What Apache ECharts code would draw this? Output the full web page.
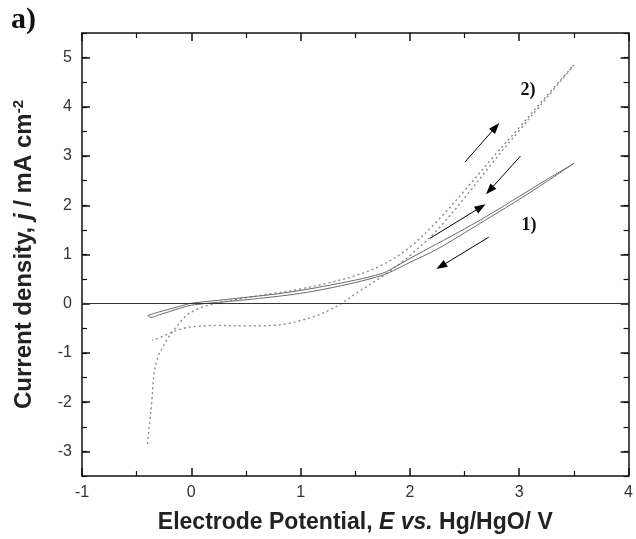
<!DOCTYPE html>
<html>
<head>
<meta charset="utf-8">
<script src="https://cdn.jsdelivr.net/npm/echarts@6.0.0/dist/echarts.min.js"></script>
<style>
html,body{margin:0;padding:0;background:#fff;}
#chart{width:636px;height:539px;}
</style>
</head>
<body>
<div id="chart"></div>
<script>
// Curve 1 (solid): forward and reverse scans
var c1FwdE = [-0.40,-0.30,-0.20,-0.10,0.00,0.25,0.50,0.75,1.00,1.25,1.50,1.75,1.875,2.00,2.25,2.50,2.75,3.00,3.25,3.50];
var c1FwdJ = [-0.24,-0.17,-0.11,-0.05,0.01,0.07,0.13,0.19,0.27,0.37,0.48,0.62,0.76,0.92,1.22,1.52,1.84,2.18,2.52,2.85];
var c1RevE = [3.50,3.25,3.00,2.75,2.50,2.25,2.00,1.875,1.75,1.50,1.25,1.00,0.75,0.50,0.25,0.00,-0.10,-0.20,-0.30,-0.37,-0.40];
var c1RevJ = [2.85,2.48,2.12,1.78,1.44,1.11,0.84,0.70,0.58,0.43,0.31,0.21,0.14,0.08,0.03,-0.03,-0.09,-0.16,-0.23,-0.28,-0.24];
// Curve 2 (dotted): forward and reverse scans
var c2FwdE = [-0.40,-0.39,-0.38,-0.36,-0.34,-0.30,-0.26,-0.22,-0.14,-0.04,0.10,0.28,0.50,0.75,1.00,1.25,1.50,1.75,2.00,2.25,2.50,2.75,3.00,3.25,3.50];
var c2FwdJ = [-2.85,-2.60,-2.40,-1.95,-1.41,-1.05,-0.88,-0.72,-0.48,-0.23,-0.07,0.03,0.12,0.21,0.30,0.42,0.57,0.79,1.15,1.68,2.30,2.95,3.58,4.22,4.85];
var c2RevE = [3.50,3.25,3.00,2.75,2.50,2.25,2.00,1.75,1.50,1.37,1.25,1.14,1.00,0.89,0.75,0.50,0.25,0.00,-0.10,-0.20,-0.30,-0.36];
var c2RevJ = [4.85,4.18,3.52,2.85,2.15,1.50,0.98,0.56,0.20,0.00,-0.14,-0.25,-0.34,-0.40,-0.44,-0.45,-0.44,-0.47,-0.52,-0.60,-0.70,-0.74];
// Axis ticks
var xTicks = [-1,0,1,2,3,4];
var yTicks = [-3,-2,-1,0,1,2,3,4,5];

function pairs(xs, ys){ return xs.map(function(x,i){ return [x, ys[i]]; }); }

var chart = echarts.init(document.getElementById('chart'), null, {renderer:'canvas'});

var SANS = 'Liberation Sans, Arial, sans-serif';
var SERIF = 'Liberation Serif, Times New Roman, serif';
var tickFont = {fontFamily:SANS, fontSize:16, color:'#333'};
var axisLineStyle = {color:'#111', width:1.5};
var majorTick = {show:true, inside:true, length:8, lineStyle:{color:'#111', width:1.5}};
var minorTickS = {show:true, inside:true, length:5, lineStyle:{color:'#111', width:1.2}};

var arrowStyle = {color:'#000', width:1, type:'solid'};
function arrow(x1,y1,x2,y2){
  return [{coord:[x1,y1], symbol:'none'}, {coord:[x2,y2], symbol:'triangle', symbolSize:[8,11]}];
}

function yMajor(pos, withLabels){
  var ax = {type:'value', position:pos, min:-3.5, max:5.5, interval:0.5,
    axisLine:{show:true, onZero:false, lineStyle:axisLineStyle},
    axisTick:Object.assign({customValues:yTicks}, majorTick),
    splitLine:{show:false},
    axisLabel:{show:false}};
  if (withLabels) {
    ax.axisLabel = Object.assign({show:true, margin:10, customValues:yTicks}, tickFont);
    ax.name = 'Current density, {i|j} / mA cm{s|-2}';
    ax.nameLocation = 'middle';
    ax.nameGap = 44;
    ax.nameRotate = 90;
    ax.nameTextStyle = {fontFamily:SANS, fontSize:24, fontWeight:'bold', color:'#222',
      rich:{i:{fontFamily:SANS, fontSize:24, fontWeight:'bold', fontStyle:'italic', color:'#222'},
            s:{fontFamily:SANS, fontSize:15, fontWeight:'bold', color:'#222', padding:[0,0,12,0]}}};
  }
  return ax;
}
function yMinor(pos){
  return {type:'value', position:pos, min:-3.5, max:5.5, interval:0.5,
    axisLine:{show:false, onZero:false}, axisTick:minorTickS,
    splitLine:{show:false}, axisLabel:{show:false}};
}

var option = {
  animation:false,
  backgroundColor:'#fff',
  grid:{left:82, top:33, width:551, height:443, containLabel:false},
  xAxis:[
    {type:'value', position:'bottom', min:-1, max:4, interval:1,
     axisLine:{show:true, onZero:false, lineStyle:axisLineStyle},
     axisTick:majorTick,
     minorTick:{show:true, splitNumber:2, length:5, lineStyle:{color:'#111', width:1.2}},
     splitLine:{show:false},
     axisLabel:Object.assign({margin:9, customValues:xTicks}, tickFont),
     name:'Electrode Potential, {i|E} {i|vs.} Hg/HgO/ V', nameLocation:'middle', nameGap:35,
     nameTextStyle:{fontFamily:SANS, fontSize:23, fontWeight:'bold', color:'#222',
       rich:{i:{fontFamily:SANS, fontSize:23, fontWeight:'bold', fontStyle:'italic', color:'#222'}}}
    },
    {type:'value', position:'top', min:-1, max:4, interval:1,
     axisLine:{show:true, onZero:false, lineStyle:axisLineStyle},
     axisTick:majorTick,
     minorTick:{show:true, splitNumber:2, length:5, lineStyle:{color:'#111', width:1.2}},
     splitLine:{show:false}, axisLabel:{show:false}}
  ],
  yAxis:[ yMajor('left', true), yMinor('left'), yMajor('right', false), yMinor('right') ],
  graphic:[
    {type:'text', left:11, top:5, style:{text:'a)', fontFamily:SERIF, fontSize:30, fontWeight:'bold', fill:'#111'}}
  ],
  series:[
    {name:'1 fwd', type:'line', xAxisIndex:0, yAxisIndex:0, data:pairs(c1FwdE, c1FwdJ), showSymbol:false, smooth:0.35,
     lineStyle:{color:'#6a6a6a', width:1}, z:3,
     markLine:{silent:true, symbol:'none', label:{show:false}, animation:false,
       data:[ [{coord:[-1,0], symbol:'none'},{coord:[4,0], symbol:'none'}] ],
       lineStyle:{color:'#333', width:1.2, type:'solid'}}
    },
    {name:'1 rev', type:'line', xAxisIndex:0, yAxisIndex:0, data:pairs(c1RevE, c1RevJ), showSymbol:false, smooth:0.35,
     lineStyle:{color:'#6a6a6a', width:1}, z:3,
     markLine:{silent:true, label:{show:false}, animation:false, lineStyle:arrowStyle,
       data:[ arrow(2.185,1.331,2.648,1.961), arrow(2.721,1.352,2.285,0.762) ]},
     markPoint:{silent:true, symbol:'circle', symbolSize:1, itemStyle:{color:'rgba(0,0,0,0)'},
       label:{show:true, position:'inside', fontFamily:SERIF, fontSize:18, fontWeight:'bold', color:'#111', formatter:function(p){return p.name;}},
       data:[{name:'1)', coord:[3.09,1.60]}]}
    },
    {name:'2 fwd', type:'line', xAxisIndex:0, yAxisIndex:0, data:pairs(c2FwdE, c2FwdJ), showSymbol:false, smooth:0.35,
     lineStyle:{color:'#8a8a8a', width:1.4, type:[2,3]}, z:2,
     markLine:{silent:true, label:{show:false}, animation:false, lineStyle:arrowStyle,
       data:[ arrow(2.503,2.876,2.784,3.587), arrow(3.011,2.998,2.730,2.307) ]},
     markPoint:{silent:true, symbol:'circle', symbolSize:1, itemStyle:{color:'rgba(0,0,0,0)'},
       label:{show:true, position:'inside', fontFamily:SERIF, fontSize:18, fontWeight:'bold', color:'#111', formatter:function(p){return p.name;}},
       data:[{name:'2)', coord:[3.08,4.34]}]}
    },
    {name:'2 rev', type:'line', xAxisIndex:0, yAxisIndex:0, data:pairs(c2RevE, c2RevJ), showSymbol:false, smooth:0.35,
     lineStyle:{color:'#8a8a8a', width:1.4, type:[2,3]}, z:2}
  ]
};
chart.setOption(option);
</script>
</body>
</html>
